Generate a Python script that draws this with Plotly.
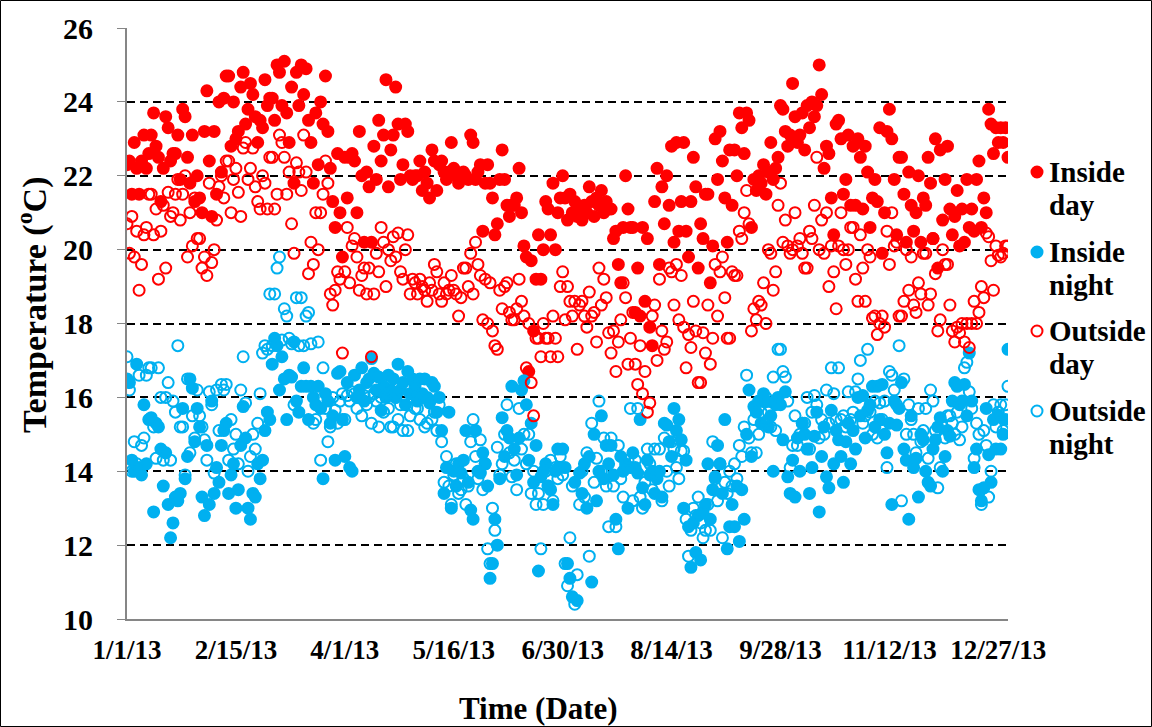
import pandas as pd
import plotly.graph_objects as go

# ---- data (daily readings, 2013) ----
start_date = "2013-01-01"

inside_day = [
    22.3,22.4,21.5,22.9,22.2,21.5,22.4,23.1,22.2,22.6,
    23.1,23.7,22.8,22.5,21.3,22.2,23.6,23.3,22.4,22.6,
    22.6,23.1,21.9,23.8,23.6,22.5,21.8,23.1,21.3,22.0,
    21.4,21.0,23.2,24.3,22.4,20.9,23.2,21.5,24.0,22.1,
    24.1,24.7,24.7,22.8,24.0,23.0,23.2,24.4,24.8,23.4,
    23.8,24.5,24.2,23.6,22.9,23.5,23.3,24.6,23.9,24.1,
    24.1,23.5,25.0,24.8,23.9,25.1,23.7,22.9,24.4,21.8,
    24.8,23.9,25.0,24.2,24.9,23.5,22.9,21.8,23.7,22.3,
    24.0,23.4,24.7,23.2,22.2,21.3,20.6,22.6,21.0,19.8,
    22.5,21.4,22.5,22.6,22.4,21.0,23.2,22.0,20.2,22.1,
    21.7,20.2,22.8,21.9,23.5,22.4,23.1,24.6,21.7,22.7,
    23.1,24.4,23.4,21.9,22.3,23.4,23.2,22.0,21.9,22.0,
    22.0,22.4,21.6,22.1,21.8,21.4,22.7,22.4,21.6,22.3,
    22.4,22.1,21.9,22.1,22.9,22.2,22.0,21.8,22.0,22.1,
    22.0,21.9,23.1,22.9,21.9,22.1,22.3,20.5,21.8,22.3,
    21.8,21.4,20.4,20.7,21.9,22.7,21.9,21.2,20.9,21.2,
    21.2,21.4,22.2,21.0,20.1,19.8,16.7,19.7,17.8,19.2,
    20.4,19.2,20.0,21.3,21.1,20.4,21.8,20.0,21.0,21.4,
    22.0,21.4,20.8,21.5,21.0,21.3,20.9,21.1,20.8,21.2,
    21.0,21.7,21.3,20.9,21.4,21.2,21.6,21.0,21.3,21.1,
    21.1,20.3,20.5,19.6,19.1,20.6,22.0,21.1,20.6,20.6,
    18.3,19.5,18.2,20.6,18.6,20.3,17.9,17.4,21.3,22.2,
    19.6,21.7,20.7,22.0,21.2,22.8,20.2,22.9,20.5,21.3,
    22.9,20.5,19.8,21.3,22.5,21.7,19.5,20.7,20.3,21.5,
    21.5,19.1,20.1,23.0,21.9,23.2,22.4,21.4,20.2,22.7,
    21.2,22.7,22.0,23.7,23.3,22.6,23.7,23.5,20.6,21.9,
    21.6,22.0,21.8,22.3,21.5,22.1,22.9,21.9,22.2,22.5,
    23.9,23.8,23.2,22.8,23.1,24.5,23.6,22.9,23.1,23.7,
    22.7,23.9,23.3,24.0,23.6,23.9,25.0,24.2,22.2,22.8,
    22.6,21.4,20.4,23.4,23.5,23.0,21.5,21.9,23.1,21.2,
    22.8,21.2,23.0,22.5,21.1,22.8,22.1,20.6,21.4,21.9,
    21.3,23.3,19.9,21.0,23.2,23.8,23.0,21.9,20.4,22.5,
    22.5,21.5,20.2,22.1,21.2,20.5,21.0,22.0,20.2,21.4,
    21.2,22.5,21.8,20.3,23.0,19.5,22.7,20.8,21.9,22.8,
    21.1,20.4,20.9,21.6,20.1,21.1,20.2,21.9,20.6,21.1,
    20.5,21.9,22.4,20.6,21.4,21.0,23.8,23.4,22.6,23.3,
    22.9,23.3,22.9,23.3,22.5,
]

inside_night = [
    16.5,16.4,14.3,14.0,16.9,14.1,13.9,15.8,14.2,15.4,
    15.45,12.9,15.3,15.2,14.6,13.6,14.5,13.1,12.2,12.6,
    13.3,13.2,13.4,15.7,13.8,14.4,16.5,16.25,14.8,15.7,
    15.2,13.3,12.8,14.7,13.1,15.9,13.4,14.1,13.7,14.7,
    15.1,15.3,13.4,13.9,14.2,13.0,13.5,14.7,15.75,14.9,
    13.0,12.7,13.4,13.3,14.2,13.8,14.3,15.1,15.6,15.4,
    16.9,17.6,17.4,16.2,17.1,16.5,15.4,16.6,16.55,17.5,
    15.9,15.6,16.3,16.8,16.3,15.4,16.3,16.0,15.8,16.3,
    15.7,13.8,16.1,15.9,15.3,15.5,14.3,16.65,16.7,15.4,
    14.4,16.4,14.1,14.0,16.6,16.0,16.2,16.8,15.9,16.4,
    16.5,17.05,16.65,16.2,16.55,15.65,16.3,16.0,16.6,16.2,
    16.5,16.0,16.9,16.2,16.4,15.8,16.7,16.1,16.5,16.3,
    15.9,16.5,16.1,16.5,16.0,15.85,16.4,16.3,15.6,16.0,
    15.1,13.4,14.1,15.6,13.0,14.0,13.6,14.2,13.95,14.3,
    15.1,13.7,12.95,12.7,15.1,14.0,13.95,14.5,14.2,13.6,
    11.1,11.5,12.7,12.0,13.8,15.45,14.4,15.1,14.9,16.3,
    14.6,13.9,14.9,16.2,16.45,15.8,14.3,15.3,13.7,14.7,
    11.3,13.85,14.0,14.2,13.6,13.5,13.1,14.0,14.6,14.1,
    14.6,14.1,11.5,11.1,10.6,13.7,10.5,13.95,13.4,14.2,
    13.0,14.4,11.0,15.0,13.2,14.0,15.5,13.8,14.7,14.2,
    14.7,13.9,12.7,11.9,14.4,14.0,14.2,13.0,14.1,14.5,
    14.1,13.95,15.4,13.55,13.1,14.3,13.9,14.0,13.4,13.8,
    14.0,13.3,15.3,15.25,14.8,14.4,15.7,15.1,15.4,14.85,
    13.0,14.3,12.5,11.4,12.6,11.8,12.8,11.6,12.9,13.1,
    14.2,12.7,13.5,13.85,14.7,14.2,13.4,15.4,11.9,12.5,
    13.1,12.5,13.6,12.1,13.5,12.7,15.0,16.2,14.4,15.75,
    15.6,15.9,15.3,16.1,15.9,15.2,15.5,14.0,15.8,16.0,
    15.8,14.85,16.15,13.85,13.4,14.3,13.3,14.9,14.0,15.3,
    15.0,14.6,13.4,14.1,14.95,15.6,12.9,14.4,15.2,13.85,
    13.55,15.65,14.2,15.1,14.85,14.4,13.7,14.8,15.3,14.2,
    15.1,14.6,16.0,15.5,16.05,14.9,15.65,15.8,16.3,15.2,
    16.3,15.4,16.35,15.0,14.5,15.3,13.1,15.9,15.25,15.7,
    16.4,14.6,14.3,12.7,15.5,14.1,14.35,13.3,15.0,14.85,
    14.0,13.7,13.6,14.6,14.85,15.2,15.45,14.0,14.4,15.1,
    14.95,15.9,16.4,16.3,15.8,15.9,16.35,15.5,17.2,15.9,
    14.1,14.6,13.5,13.2,13.55,15.7,14.45,13.7,15.4,14.6,
    15.5,14.6,15.0,15.4,17.3,
]

outside_day = [
    20.7,19.9,20.9,19.8,20.5,18.9,19.6,20.4,20.6,21.5,
    21.5,20.4,21.1,19.2,20.5,21.2,19.5,21.55,20.9,21.0,
    21.5,21.9,20.8,21.5,22.0,19.8,21.0,20.1,21.4,20.3,
    20.3,19.5,19.8,19.3,21.8,19.65,20.0,20.8,21.7,22.0,
    21.4,22.4,22.4,21.0,21.9,22.2,21.55,20.9,22.75,22.9,
    21.9,22.2,22.75,21.7,21.3,21.1,22.0,21.8,21.1,22.5,
    22.5,21.1,21.5,23.1,22.9,22.5,21.5,22.1,20.7,19.9,
    22.35,22.1,21.6,23.1,22.1,19.35,20.2,19.6,21.0,20.0,
    21.0,21.5,22.4,21.8,18.8,18.5,18.9,19.4,19.2,17.2,
    19.4,20.6,19.1,20.1,20.3,19.8,18.9,19.3,19.5,18.8,
    19.5,17.1,18.8,19.9,19.4,20.6,20.2,19.0,20.0,19.7,
    20.35,19.8,20.45,19.4,19.2,20.0,20.4,18.8,19.2,19.1,
    18.8,19.2,19.0,18.9,18.6,19.1,18.9,19.6,19.4,18.8,
    18.6,19.1,18.8,18.9,19.3,18.9,18.8,18.2,18.7,19.5,
    19.5,19.0,19.9,18.8,20.2,19.6,19.3,18.1,19.2,18.0,
    19.1,17.8,17.4,17.3,18.9,18.4,19.0,19.1,18.3,18.1,
    18.1,18.4,19.2,18.6,18.2,16.8,18.0,16.4,15.5,17.6,
    17.6,17.1,18.0,17.6,17.6,17.1,18.2,17.6,17.1,19.0,
    19.4,18.1,19.0,18.6,18.2,18.6,17.3,18.5,18.6,18.2,
    17.9,18.85,18.2,18.3,17.5,19.5,18.5,19.2,18.7,17.75,
    17.2,17.8,16.7,17.5,18.1,19.1,18.7,16.9,17.6,18.3,
    16.9,16.35,17.4,16.1,16.7,15.6,15.85,18.2,18.5,17.0,
    19.2,17.8,17.3,17.5,19.5,19.4,18.5,19.6,18.1,19.3,
    17.9,16.8,17.7,17.35,18.6,17.8,16.4,16.4,17.75,17.2,
    18.5,16.9,17.6,19.6,18.2,19.4,19.8,18.7,17.6,17.6,
    19.4,19.3,19.3,20.5,20.3,21.0,21.6,20.7,17.8,18.4,
    18.1,18.6,18.5,19.1,18.0,20.0,19.9,18.9,19.4,21.2,
    21.8,20.2,20.8,20.1,19.9,20.0,21.0,20.1,20.3,19.9,
    19.5,19.5,20.5,20.3,21.2,22.5,20.0,20.8,19.9,21.0,
    19.0,20.1,19.4,18.4,20.1,21.0,20.0,19.6,20.0,20.6,
    20.6,19.2,18.6,20.4,19.5,18.6,20.0,19.8,18.15,18.2,
    17.7,18.0,18.2,17.9,20.5,19.6,21.0,20.1,20.2,18.2,
    18.2,18.6,20.0,18.9,19.8,18.5,18.3,19.1,18.8,19.9,
    19.9,18.5,18.8,20.3,19.35,17.8,18.1,20.0,19.6,19.6,
    18.5,17.8,17.5,17.9,17.75,18.0,17.5,18.0,17.35,18.0,
    18.6,18.0,18.3,19.0,18.7,20.45,20.35,19.7,18.9,20.1,
    19.85,19.8,19.9,20.1,20.1,
]

outside_night = [
    17.1,16.2,14.0,14.8,14.2,16.6,14.7,14.9,16.6,16.8,
    16.8,15.2,14.35,16.8,16.0,14.3,16.0,16.4,14.3,15.9,
    15.6,17.4,15.2,15.2,13.9,16.5,14.5,15.5,14.9,16.2,
    15.5,15.2,14.85,14.3,16.15,15.8,13.95,16.2,15.1,16.35,
    16.2,16.35,14.3,15.4,14.6,15.0,14.2,16.2,17.1,15.85,
    14.0,14.4,15.0,14.6,15.3,16.1,17.2,17.4,17.3,18.8,
    17.4,18.8,19.5,19.8,17.55,18.4,18.2,17.6,17.45,15.8,
    18.7,17.4,18.7,17.4,18.2,18.3,17.45,15.3,15.4,17.5,
    14.3,16.8,15.7,14.8,15.2,16.0,15.65,15.3,15.9,16.1,
    15.4,16.05,15.9,16.15,16.1,15.7,16.0,15.5,16.05,15.8,
    16.0,15.3,16.1,15.9,15.2,16.0,15.6,16.05,15.7,15.2,
    15.2,16.0,15.4,15.8,15.1,16.05,15.1,15.5,16.0,15.7,
    15.7,15.4,16.0,15.2,15.3,15.9,15.4,15.6,15.1,15.8,
    14.8,13.7,14.4,13.6,13.1,13.9,14.2,13.4,13.5,13.8,
    13.1,13.6,14.8,15.4,14.4,13.8,14.85,13.5,14.2,11.9,
    11.5,13.0,12.4,14.65,13.9,14.2,15.0,15.8,14.5,13.85,
    14.3,13.5,15.7,14.6,15.0,14.2,15.0,13.4,14.0,13.1,
    13.4,11.9,13.1,14.0,13.6,14.3,13.2,14.1,13.8,14.4,
    13.9,11.5,10.9,12.2,13.6,10.4,11.2,13.1,14.0,13.3,
    14.5,11.7,15.3,13.7,14.35,15.9,14.0,14.9,13.6,12.5,
    14.9,13.6,12.5,14.7,13.8,13.3,14.1,14.3,15.7,13.2,
    14.3,15.7,13.3,13.0,13.7,14.6,14.2,13.5,14.6,13.9,
    14.6,13.2,14.9,14.0,13.6,14.8,14.6,14.1,13.8,14.55,
    14.55,12.7,11.7,12.4,13.0,12.8,13.3,12.6,12.2,12.4,
    13.1,12.4,14.8,13.8,13.2,14.2,12.2,13.7,13.4,14.0,
    13.6,14.2,13.8,14.7,14.4,15.2,16.6,14.9,14.5,15.4,
    14.5,15.0,15.6,15.3,16.0,15.6,15.2,16.55,15.1,17.3,
    17.3,16.7,16.55,15.9,14.1,14.7,15.5,14.7,15.0,15.3,
    15.3,16.0,14.6,15.6,16.05,15.8,14.9,15.4,15.0,16.2,
    15.3,16.8,16.1,15.4,16.8,15.4,15.5,15.2,16.15,15.4,
    15.6,16.15,16.5,17.0,15.3,15.5,17.3,15.6,15.0,15.9,
    14.9,15.85,15.4,15.9,14.1,16.7,16.6,16.2,15.8,17.4,
    13.2,16.5,15.0,15.8,15.4,15.0,14.5,15.7,14.8,15.1,
    15.7,14.35,16.2,15.9,15.1,13.55,14.1,15.2,14.9,15.5,
    15.5,15.3,15.0,15.6,14.85,15.2,16.8,16.95,16.15,15.7,
    14.35,15.3,15.0,13.1,15.1,14.7,13.3,14.0,15.8,15.2,
    15.6,15.8,15.1,15.8,16.3,
]

tick_dates = ["2013-01-01", "2013-02-15", "2013-04-01", "2013-05-16", "2013-06-30",
              "2013-08-14", "2013-09-28", "2013-11-12", "2013-12-27"]
tick_labels = ["1/1/13", "2/15/13", "4/1/13", "5/16/13", "6/30/13",
               "8/14/13", "9/28/13", "11/12/13", "12/27/13"]
y_ticks = [10, 12, 14, 16, 18, 20, 22, 24, 26]

legend_lines = [("Inside", "day"), ("Inside", "night"), ("Outside", "day"), ("Outside", "night")]
x_title = "Time (Date)"
y_title = "Temperature (<sup>o</sup>C)"

RED = "#FF0000"
BLUE = "#00B0F0"
FONT = "Liberation Serif"

# plot-area geometry (pixels) used to place the legend and titles
L, R, T, B = 127, 1008, 28, 619
W, H = R - L, B - T
def px(x):
    return (x - L) / W
def py(y):
    return (B - y) / H

def dates_for(vals):
    return pd.date_range(start_date, periods=len(vals), freq="D")

series = [
    (inside_day, RED, "circle"),
    (inside_night, BLUE, "circle"),
    (outside_day, RED, "circle-open"),
    (outside_night, BLUE, "circle-open"),
]

fig = go.Figure()
for i, (vals, col, sym) in enumerate(series):
    fig.add_trace(go.Scatter(
        x=dates_for(vals), y=vals, mode="markers",
        name=" ".join(legend_lines[i]), showlegend=False,
        marker=dict(symbol=sym, size=11, color=col,
                    line=dict(color=col, width=2)),
    ))

# legend (markers + two-line bold labels)
leg_y = [172, 252, 331, 411]
shapes = []
annotations = []
for i, (vals, col, sym) in enumerate(series):
    yc = leg_y[i]
    filled = sym == "circle"
    shapes.append(dict(type="circle", xref="paper", yref="paper",
                       x0=px(1031.5), x1=px(1042.5), y0=py(yc + 5.5), y1=py(yc - 5.5),
                       line=dict(color=col, width=2),
                       fillcolor=col if filled else "white"))
    for j, txt in enumerate(legend_lines[i]):
        annotations.append(dict(xref="paper", yref="paper", x=px(1047), y=py(yc + 33 * j),
                                xanchor="left", yanchor="middle", showarrow=False,
                                text=f"<b>{txt}</b>",
                                font=dict(family=FONT, size=29, color="black")))

# axis titles
annotations.append(dict(xref="paper", yref="paper", x=px(538), y=py(708),
                        xanchor="center", yanchor="middle", showarrow=False,
                        text=f"<b>{x_title}</b>", font=dict(family=FONT, size=31, color="black")))
annotations.append(dict(xref="paper", yref="paper", x=px(32), y=py(305),
                        xanchor="center", yanchor="middle", showarrow=False, textangle=-90,
                        text=f"<b>{y_title}</b>", font=dict(family=FONT, size=34, color="black")))

# outer chart border
shapes.append(dict(type="rect", xref="paper", yref="paper",
                   x0=px(0.5), x1=px(1151.5), y0=py(726.5), y1=py(0.5),
                   line=dict(color="black", width=1), fillcolor="rgba(0,0,0,0)", layer="below"))

fig.update_layout(
    width=1152, height=727,
    margin=dict(l=L, r=1152 - R, t=T, b=727 - B),
    paper_bgcolor="white", plot_bgcolor="white",
    font=dict(family=FONT, color="black"),
    showlegend=False,
    shapes=shapes, annotations=annotations,
    xaxis=dict(
        type="date", range=["2013-01-01", "2013-12-31"],
        tickvals=tick_dates, ticktext=[f"<b>{t}</b>" for t in tick_labels],
        tickfont=dict(family=FONT, size=27, color="black"),
        showgrid=False, zeroline=False,
        showline=True, linecolor="#868686", linewidth=2,
        ticks="outside", ticklen=6, tickcolor="rgba(0,0,0,0)",
    ),
    yaxis=dict(
        range=[10, 26], tickvals=y_ticks,
        ticktext=[f"<b>{v}</b>" for v in y_ticks],
        tickfont=dict(family=FONT, size=30, color="black"),
        showgrid=True, gridcolor="black", gridwidth=2, griddash="8px,5px",
        zeroline=False,
        showline=True, linecolor="#868686", linewidth=2,
        ticks="outside", ticklen=8, tickcolor="#868686",
        ticklabelstandoff=18,
    ),
)

fig.write_html("out.html")
